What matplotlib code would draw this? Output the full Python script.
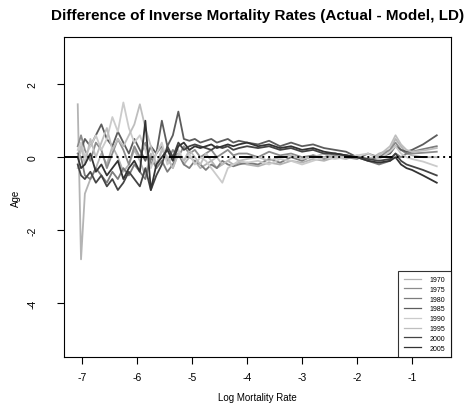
import matplotlib
matplotlib.use("Agg")
import matplotlib.pyplot as plt

plt.rcParams["font.family"] = ["Liberation Sans", "DejaVu Sans"]
plt.rcParams["axes.unicode_minus"] = False

# shared x positions (log mortality rate)
log_rate = [-7.08, -7.02, -6.95, -6.85, -6.75, -6.65, -6.55, -6.45, -6.35, -6.25,
            -6.15, -6.05, -5.95, -5.85, -5.75, -5.65, -5.55, -5.45, -5.35, -5.25,
            -5.15, -5.05, -4.95, -4.85, -4.75, -4.65, -4.55, -4.45, -4.35, -4.25,
            -4.15,
            -4.0, -3.8, -3.6, -3.4, -3.2, -3.0, -2.8, -2.6, -2.4, -2.2,
            -2.0, -1.8, -1.6, -1.4, -1.3, -1.2, -1.1, -1.0, -0.8, -0.55]

years = ["1970", "1975", "1980", "1985", "1990", "1995", "2000", "2005"]

d1970 = [1.45, -2.8, -1.0, -0.6, -0.3, 0.1, -0.2, 0.3, 0.0, -0.4,
         -0.2, 0.2, -0.1, -0.5, 0.1, -0.3, 0.2, 0.0, -0.3, 0.1,
         -0.2, 0.0, -0.1, -0.3, -0.2, -0.1, -0.3, -0.2, -0.1, -0.2,
         -0.15,
         -0.2, -0.25, -0.15, -0.2, -0.1, -0.15, -0.05, -0.1, 0.0, -0.05,
         0.05, -0.1, 0.1, 0.2, 0.5, 0.3, 0.1, 0.05, 0.0, 0.0]
d1975 = [0.3, 0.6, 0.2, -0.1, 0.4, 0.2, -0.3, 0.1, 0.5, 0.2,
         -0.2, 0.3, 0.0, 0.4, -0.2, 0.1, 0.3, -0.1, 0.2, 0.0,
         0.3, 0.1, 0.2, 0.0, 0.1, 0.2, 0.0, 0.1, 0.2, 0.05,
         0.1,
         0.1, 0.0, 0.15, 0.05, 0.1, 0.0, 0.05, -0.05, 0.05, 0.0,
         -0.05, 0.1, 0.0, 0.2, 0.4, 0.2, 0.1, 0.1, 0.12, 0.15]
d1980 = [0.1, 0.0, -0.5, -0.6, -0.3, -0.5, -0.7, -0.4, -0.6, -0.3,
         -0.5, -0.2, -0.4, -0.6, 0.0, -0.3, -0.1, -0.4, -0.2, 0.1,
         -0.2, -0.3, -0.1, -0.2, -0.35, -0.2, -0.3, -0.1, -0.2, -0.25,
         -0.2,
         -0.15, -0.2, -0.05, -0.15, 0.0, -0.1, 0.05, 0.0, 0.1, 0.05,
         0.0, -0.1, -0.2, -0.1, 0.1, 0.0, 0.1, 0.15, 0.22, 0.3]
d1985 = [0.0, 0.2, 0.5, 0.3, 0.6, 0.9, 0.5, 0.3, 0.7, 0.4,
         0.1, 0.5, 0.2, -0.1, 0.3, 0.1, 1.0, 0.3, 0.6, 1.25,
         0.5, 0.45, 0.5, 0.4, 0.45, 0.5, 0.4, 0.45, 0.5, 0.4,
         0.45,
         0.4, 0.35, 0.45, 0.3, 0.4, 0.3, 0.35, 0.25, 0.2, 0.15,
         0.0, -0.05, 0.0, 0.1, 0.3, 0.2, 0.15, 0.2, 0.35, 0.6]
d1990 = [0.2, 0.4, 0.0, 0.3, 0.6, 0.2, 0.5, 1.1, 0.7, 1.5,
         0.8, 0.4, 0.6, 0.2, -0.3, 0.1, 0.4, -0.2, 0.0, 0.2,
         -0.1, 0.1, -0.2, 0.0, -0.1, -0.3, -0.5, -0.7, -0.3, -0.2,
         -0.1,
         -0.15, -0.1, -0.2, -0.05, -0.1, -0.2, -0.1, 0.0, -0.05, 0.0,
         0.05, 0.1, -0.05, 0.15, 0.3, 0.1, 0.0, -0.05, -0.12, -0.25]
d1995 = [-0.3, 0.3, -0.2, 0.5, 0.0, 0.4, 0.8, 0.2, 0.5, 0.3,
         0.6, 0.9, 1.45, 0.8, 0.3, -0.2, 0.2, 0.0, -0.3, 0.1,
         -0.1, 0.2, 0.0, -0.2, 0.1, -0.1, 0.0, -0.2, -0.1, 0.0,
         -0.1,
         -0.05, 0.0, -0.1, 0.0, 0.05, -0.05, 0.0, 0.1, 0.0, 0.05,
         0.0, -0.05, 0.05, 0.3, 0.6, 0.35, 0.2, 0.15, 0.18, 0.25]
d2000 = [-0.2, -0.5, -0.6, -0.4, -0.7, -0.5, -0.8, -0.6, -0.9, -0.7,
         -0.4, -0.6, -0.8, -0.3, -0.9, -0.5, -0.2, 0.3, 0.0, 0.4,
         0.2, 0.3, 0.35, 0.3, 0.25, 0.2, 0.3, 0.25, 0.3, 0.2,
         0.25,
         0.3, 0.25, 0.3, 0.2, 0.25, 0.15, 0.2, 0.1, 0.1, 0.05,
         0.0, -0.05, -0.1, -0.05, 0.1, -0.1, -0.2, -0.25, -0.35, -0.5]
d2005 = [0.0, -0.3, -0.2, 0.1, -0.4, -0.2, -0.5, -0.3, -0.1, -0.6,
         -0.3, -0.1, -0.4, 1.0, -0.9, -0.2, 0.0, 0.2, -0.1, 0.3,
         0.4, 0.2, 0.3, 0.25, 0.3, 0.35, 0.25, 0.3, 0.35, 0.3,
         0.35,
         0.4, 0.3, 0.35, 0.25, 0.3, 0.2, 0.25, 0.15, 0.1, 0.05,
         0.0, -0.1, -0.15, -0.1, 0.0, -0.2, -0.3, -0.35, -0.5, -0.7]

series = [d1970, d1975, d1980, d1985, d1990, d1995, d2000, d2005]
colors = ["#b4b4b4", "#8c8c8c", "#7c7c7c", "#5c5c5c",
          "#cbcbcb", "#bebebe", "#444444", "#333333"]

fig = plt.figure(figsize=(4.65, 4.06), dpi=100)
ax = fig.add_axes([0.1376, 0.118, 0.8324, 0.788])

for year, vals, col in zip(years, series, colors):
    ax.plot(log_rate, vals, color=col, lw=1.3, label=year)

ax.axhline(0, color="black", lw=1.4, dashes=(7, 2, 1, 2, 1, 2, 1, 2), zorder=5)

ax.set_xlim(-7.33, -0.29)
ax.set_ylim(-5.48, 3.29)
ax.set_xticks([-7, -6, -5, -4, -3, -2, -1])
ax.set_yticks([2, 0, -2, -4])
ax.set_yticklabels(["2", "0", "-2", "-4"], rotation=90, va="center")
ax.tick_params(labelsize=7.5, length=5, width=0.8, direction="out")
ax.tick_params(axis="x", pad=6)
ax.tick_params(axis="y", pad=14)
for sp in ax.spines.values():
    sp.set_linewidth(0.8)

ax.set_xlabel("Log Mortality Rate", fontsize=7, labelpad=7)
ax.set_ylabel("Age", fontsize=7, labelpad=5)
ax.set_title("Difference of Inverse Mortality Rates (Actual - Model, LD)",
             fontsize=11, fontweight="bold", pad=13)

leg = ax.legend(loc="lower right", fontsize=5, frameon=True, fancybox=False,
                borderaxespad=0, handlelength=2.5, labelspacing=0.4,
                borderpad=0.8, handletextpad=1.2)
leg.get_frame().set_edgecolor("black")
leg.get_frame().set_linewidth(0.8)
for line in leg.get_lines():
    line.set_linewidth(0.9)

fig.savefig("out.png", dpi=100)
